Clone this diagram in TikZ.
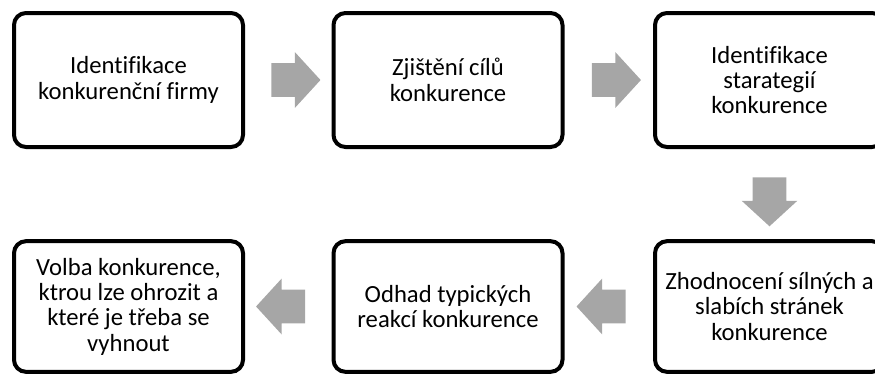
\documentclass[tikz,border=0pt]{standalone}
\usepackage{fontspec}
\setmainfont{Carlito}[Ligatures=NoCommon]
\usetikzlibrary{shapes.arrows}
\definecolor{sipkagray}{RGB}{166,166,166}

\begin{document}
\begin{tikzpicture}[x=0.75pt,y=0.75pt,yscale=-1,
    krok/.style={draw, line width=3pt, rounded corners=9pt, minimum width=171.75pt, minimum height=100.5pt, inner sep=2pt, align=center, font=\fontsize{18.5}{19}\selectfont},
    nizko/.style={minimum height=98pt},
    sipka/.style={single arrow, fill=sipkagray, draw=none, inner xsep=0pt, inner ysep=12.4pt, minimum height=36.75pt, single arrow head extend=8.25pt, single arrow tip angle=95}]
  \useasboundingbox (0,0) rectangle (875,376);

  % top row
  \node[krok] (identifikace) at (128.5,80) {Identifikace\\konkurenční firmy};
  \node[krok] (cile) at (448,80) {Zjištění cílů\\konkurence};
  \node[krok] (strategie) at (769.5,80) {Identifikace\\starategií\\konkurence};

  % bottom row
  \node[krok, nizko] (hodnoceni) at (769.5,306.5) {Zhodnocení sílných a\\slabích stránek\\konkurence};
  \node[krok, nizko] (reakce) at (448,306.5) {Odhad typických\\reakcí konkurence};
  \node[krok, nizko] (volba) at (128.5,306.5) {Volba konkurence,\\ktrou lze ohrozit a\\které je třeba se\\vyhnout};

  % arrows
  \path (identifikace) -- node[sipka] (s1) {} (cile);
  \path (cile) -- node[sipka] (s2) {} (strategie);
  \path (strategie) -- node[sipka, rotate=-90] (s3) {} (hodnoceni);
  \path (hodnoceni) -- node[sipka, rotate=180] (s4) {} (reakce);
  \path (reakce) -- node[sipka, rotate=180] (s5) {} (volba);
\end{tikzpicture}
\end{document}
